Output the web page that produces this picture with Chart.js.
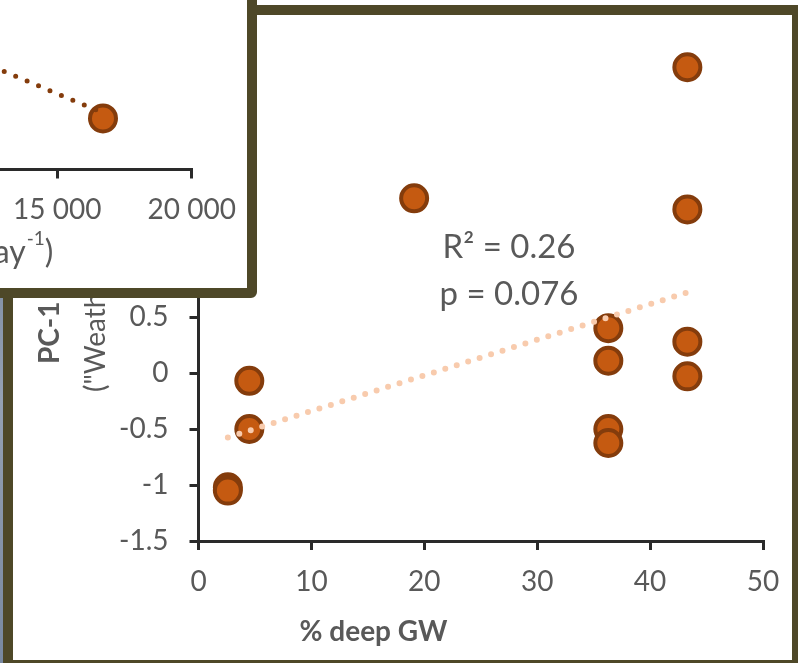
<!DOCTYPE html>
<html>
<head>
<meta charset="utf-8">
<script src="https://cdn.jsdelivr.net/npm/chart.js@4.4.1/dist/chart.umd.min.js"></script>
<style>
  html, body { margin: 0; padding: 0; background: #fff; }
  body { width: 798px; height: 663px; position: relative; overflow: hidden; }
  #strip { position: absolute; left: 0; top: 0; width: 3px; height: 663px;
           background: linear-gradient(#8795a8, #7b8aa1 35%, #95a1b3 60%, #7888a0); }
  #frame { position: absolute; left: 3px; top: 5px; width: 799px; height: 665px; box-sizing: border-box;
           border: 10px solid #4e4828; background: #fff; }
  #mainBox { position: absolute; left: 0; top: 0; width: 779px; height: 645px; }
  #inset { position: absolute; left: -20px; top: -20px; width: 277px; height: 318px; box-sizing: border-box;
           border: 10px solid #4e4828; border-radius: 0 0 6px 0; background: #fff; overflow: hidden; }
  #insetBox { position: absolute; left: -410px; top: -30px; width: 690px; height: 330px; }
</style>
</head>
<body>
<div id="strip"></div>
<div id="frame"><div id="mainBox"><canvas id="mainChart"></canvas></div></div>
<div id="inset"><div id="insetBox"><canvas id="insetChart"></canvas></div></div>

<script>
// main panel : PC-1 vs % deep GW
const deepGW = [2.6, 2.6, 4.5, 4.5, 19.1, 36.3, 36.3, 36.3, 36.3, 43.3, 43.3, 43.3, 43.3];
const pc1    = [-1.02, -1.05, -0.07, -0.5, 1.56, 0.40, 0.11, -0.50, -0.625, 2.73, 1.46, 0.28, -0.03];
const trendX = [2.6, 43.3];
const trendY = [-0.575, 0.72];
const xTicks = [0, 10, 20, 30, 40, 50];
const xTickLabels = ['0', '10', '20', '30', '40', '50'];
const yTicks = [-1.5, -1, -0.5, 0, 0.5, 1, 1.5, 2, 2.5, 3];
const yTickLabels = ['-1.5', '-1', '-0.5', '0', '0.5', '1', '1.5', '2', '2.5', '3'];
const statText = ['R\u00b2 = 0.26', 'p = 0.076'];
const xTitle = '% deep GW';
const yTitle = ['PC-1', '("Weathering")'];

// inset panel (only its right end is visible)
const insetX = [16700];
const insetY = [-0.22];
const insetTrendX = [11750, 16590];
const insetTrendY = [1.32, -0.05];
const insetXTicks = [0, 5000, 10000, 15000, 20000];
const insetXLabels = ['0', '5 000', '10 000', '15 000', '20 000'];
const insetYTicks = [-1.5, -1, -0.5, 0, 0.5, 1, 1.5, 2, 2.5, 3];
const insetYLabels = ['-1.5', '-1', '-0.5', '0', '0.5', '1', '1.5', '2', '2.5', '3'];
const insetTitle = ['Discharge (m\u00b3 day', '-1', ')'];

const AXIS = '#2a2a2a';
const TEXT = '#595959';
const FONT = 'Lato';

function axisOpts(vals, labels, min, max, size, isY) {
  return {
    type: 'linear', min: min, max: max,
    afterBuildTicks: s => { s.ticks = vals.map(v => ({ value: v })); },
    afterFit: s => {
      // fixed box sizes, no extra room for overhanging labels
      if (isY) s.width = size; else s.height = size;
      s.paddingLeft = s.paddingRight = s.paddingTop = s.paddingBottom = 0;
    },
    ticks: { callback: (v, i) => labels[i], color: TEXT, font: { family: FONT, size: 28 },
             padding: isY ? 21 : 15, autoSkip: false, maxRotation: 0 },
    grid: { display: true, drawOnChartArea: false, drawTicks: true, tickLength: 9, color: AXIS, lineWidth: 3 },
    border: { display: true, color: AXIS, width: 3 }
  };
}

function pts(xs, ys) { return xs.map((x, i) => ({ x: x, y: ys[i] })); }

const mainText = {
  id: 'mainText',
  afterDraw(chart) {
    const { ctx, chartArea } = chart;
    const x = chart.scales.x, y = chart.scales.y;
    ctx.save();
    ctx.fillStyle = TEXT;
    ctx.textAlign = 'center';
    ctx.textBaseline = 'middle';
    ctx.font = '33px ' + FONT;
    ctx.fillText(statText[0], x.getPixelForValue(27.5), y.getPixelForValue(1.12));
    ctx.fillText(statText[1], x.getPixelForValue(27.5), y.getPixelForValue(0.705));
    ctx.font = 'bold 28px ' + FONT;
    ctx.fillText(xTitle, x.getPixelForValue(15.5), chartArea.bottom + 91);
    // y title, rotated, partly under the inset
    ctx.textAlign = 'left';
    ctx.translate(chartArea.left - 148.5, y.getPixelForValue(0.08));
    ctx.rotate(-Math.PI / 2);
    ctx.fillText(yTitle[0], 0, 0);
    ctx.font = '28px ' + FONT;
    ctx.fillText(yTitle[1], -28, 46);
    ctx.restore();
  }
};

const insetText = {
  id: 'insetText',
  afterDraw(chart) {
    const ctx = chart.ctx;
    const right = chart.scales.x.getPixelForValue(15000) - 4;
    const base = chart.chartArea.bottom + 93;
    ctx.save();
    ctx.fillStyle = TEXT;
    ctx.textBaseline = 'alphabetic';
    ctx.textAlign = 'right';
    ctx.font = '32px ' + FONT;
    const wEnd = ctx.measureText(insetTitle[2]).width;
    ctx.fillText(insetTitle[2], right, base);
    ctx.font = '19px ' + FONT;
    const wSup = ctx.measureText(insetTitle[1]).width;
    ctx.fillText(insetTitle[1], right - wEnd, base - 18);
    ctx.font = '32px ' + FONT;
    ctx.fillText(insetTitle[0], right - wEnd - wSup - 1, base);
    ctx.restore();
  }
};

function baseOptions(padding, xAxis, yAxis) {
  return {
    responsive: true, maintainAspectRatio: false, animation: false, events: [],
    layout: { padding: padding },
    plugins: { legend: { display: false }, tooltip: { enabled: false } },
    scales: { x: xAxis, y: yAxis }
  };
}

function build() {
  new Chart(document.getElementById('mainChart'), {
    type: 'scatter',
    data: {
      datasets: [
        { data: pts(trendX, trendY), showLine: true, borderColor: '#f8cbad', borderWidth: 6,
          borderDash: [0, 12], borderCapStyle: 'round', pointRadius: 0, fill: false },
        { data: pts(deepGW, pc1), pointRadius: 13, pointBorderWidth: 4,
          pointBackgroundColor: '#c55a11', pointBorderColor: '#843c0c' }
      ]
    },
    options: baseOptions({ top: 22, right: 29, left: 0, bottom: 0 },
      axisOpts(xTicks, xTickLabels, 0, 50, 119, false),
      axisOpts(yTicks, yTickLabels, -1.5, 3, 185.5, true)),
    plugins: [mainText]
  });

  new Chart(document.getElementById('insetChart'), {
    type: 'scatter',
    data: {
      datasets: [
        { data: pts(insetTrendX, insetTrendY), showLine: true, borderColor: '#843c0c', borderWidth: 5,
          borderDash: [0, 12.4], borderCapStyle: 'round', pointRadius: 0, fill: false },
        { data: pts(insetX, insetY), pointRadius: 13, pointBorderWidth: 4,
          pointBackgroundColor: '#c55a11', pointBorderColor: '#843c0c' }
      ]
    },
    options: baseOptions({ top: 30, right: 78.3, left: 0, bottom: 0 },
      axisOpts(insetXTicks, insetXLabels, 0, 20000, 120.5, false),
      axisOpts(insetYTicks, insetYLabels, -1.5, 3, 74.1, true)),
    plugins: [insetText]
  });
}

Promise.all([document.fonts.load('28px Lato'), document.fonts.load('bold 28px Lato')])
  .then(build, build);
</script>
</body>
</html>
